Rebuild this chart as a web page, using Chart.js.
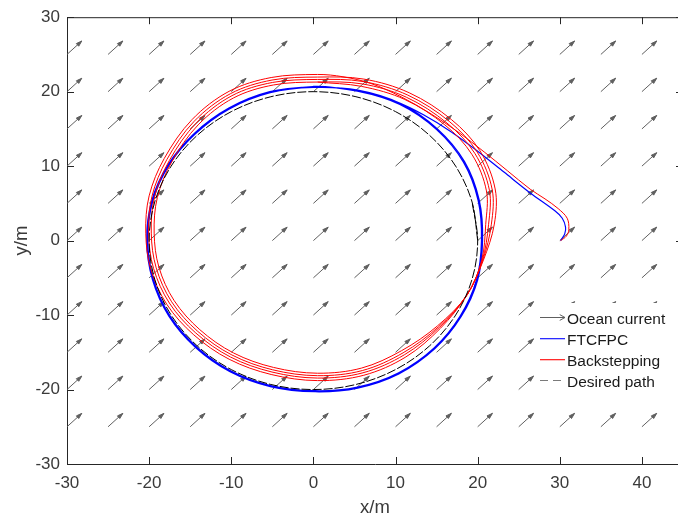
<!DOCTYPE html>
<html>
<head>
<meta charset="utf-8">
<script src="https://cdn.jsdelivr.net/npm/chart.js@4.4.0/dist/chart.umd.min.js"></script>
<style>
  html, body { margin: 0; padding: 0; background: #fff; overflow: hidden; }
  #wrap { width: 678px; height: 522px; overflow: hidden; }
  canvas { display: block; }
</style>
</head>
<body>
<div id="wrap"><canvas id="chart" width="700" height="522"></canvas></div>
<script>
const xTicks = [-30, -20, -10, 0, 10, 20, 30, 40];
const yTicks = [-30, -20, -10, 0, 10, 20, 30];

// ocean current field (quiver)
const currentX = [-30, -25, -20, -15, -10, -5, 0, 5, 10, 15, 20, 25, 30, 35, 40];
const currentY = [-25, -20, -15, -10, -5, 0, 5, 10, 15, 20, 25];
const currentU = 1.8;
const currentV = 1.8;

// desired path, r = 20
const desiredPath = [
  [20, 0], [19.32, 5.18], [17.32, 10], [14.14, 14.14], [10, 17.32], [5.18, 19.32],
  [0, 20], [-5.18, 19.32], [-10, 17.32], [-14.14, 14.14], [-17.32, 10], [-19.32, 5.18],
  [-20, 0], [-19.32, -5.18], [-17.32, -10], [-14.14, -14.14], [-10, -17.32], [-5.18, -19.32],
  [0, -20], [5.18, -19.32], [10, -17.32], [14.14, -14.14], [17.32, -10], [19.32, -5.18],
  [20, 0], [19.32, 5.18]
];

// FTCFPC
const ftcApproach = [
  [30.1, 0], [30.6, 0.9], [30.7, 1.8], [30.3, 3.0], [29.4, 4.0], [26.4, 6.4],
  [23.2, 9.2], [20.0, 12.0], [16.8, 14.6], [13.4, 16.9], [10.0, 18.7], [6.5, 19.9], [3.0, 20.5]
];
const ftcLap1 = [
  [0, 20.7], [-5.3, 20.0], [-10.3, 17.8], [-14.5, 14.4], [-17.7, 10.2], [-19.7, 5.3],
  [-20.3, 0], [-19.6, -5.25], [-17.6, -10.15], [-14.35, -14.35], [-10.15, -17.6], [-5.25, -19.6],
  [0.2, -20.3], [5.4, -19.8], [10.4, -17.9], [14.8, -14.5], [18.0, -10.2], [20.0, -5.3],
  [20.6, 0], [20.2, 5.4], [18.4, 10.6], [15.1, 15.0], [10.6, 18.4], [5.4, 20.2]
];
const ftcLap2 = [
  [0, 20.56], [-5.26, 19.86], [-10.23, 17.68], [-14.4, 14.3], [-17.58, 10.13], [-19.56, 5.26],
  [-20.16, 0], [-19.46, -5.21], [-17.48, -10.08], [-14.25, -14.25], [-10.08, -17.48], [-5.21, -19.46],
  [0.2, -20.16], [5.36, -19.66], [10.33, -17.77], [14.7, -14.4], [17.87, -10.13], [19.86, -5.26],
  [20.46, 0], [20.06, 5.36], [18.27, 10.52], [15.0, 14.9], [10.53, 18.27], [5.36, 20.06]
];
const ftcLap3 = [
  [0, 20.64], [-5.28, 19.94], [-10.27, 17.75], [-14.46, 14.36], [-17.65, 10.17], [-19.64, 5.28],
  [-20.24, 0], [-19.54, -5.23], [-17.55, -10.12], [-14.31, -14.31], [-10.12, -17.55], [-5.23, -19.54],
  [0.2, -20.24], [5.38, -19.74], [10.37, -17.85], [14.76, -14.46], [17.95, -10.17], [19.94, -5.28],
  [20.54, 0]
];

// Backstepping
const bsApproach = [
  [30.1, 0], [30.8, 0.6], [31.1, 1.5], [30.9, 3.0], [29.8, 4.3], [28.2, 5.6], [26.4, 6.9],
  [23.6, 9.4], [20.8, 11.9], [17.6, 14.6], [14.2, 17.1], [10.7, 19.3], [7.0, 21.1], [3.6, 22.0]
];
const bsLapA = [
  [0.5, 22.31], [-5.14, 21.9], [-10.26, 20.05], [-14.77, 16.26], [-18.16, 11.03], [-20.0, 6.01],
  [-20.41, 0.99], [-19.8, -3.83], [-17.85, -8.55], [-14.57, -12.65], [-10.26, -15.93], [-5.14, -17.98],
  [0.5, -18.8], [6.14, -18.08], [11.26, -15.62], [15.48, -11.76], [18.7, -7.3], [20.7, -2.62],
  [22.03, 2.22], [22.13, 6.93], [20.28, 12.06], [16.8, 16.26], [11.67, 19.85], [6.14, 21.69]
];
const bsLapB = [
  [0.5, 21.96], [-5.04, 21.56], [-10.08, 19.74], [-14.52, 16.02], [-17.85, 10.87], [-19.66, 5.94],
  [-20.06, 1.0], [-19.46, -3.74], [-17.54, -8.38], [-14.32, -12.41], [-10.08, -15.64], [-5.04, -17.65],
  [0.5, -18.46], [6.04, -17.75], [11.08, -15.33], [15.36, -11.64], [18.7, -7.3], [20.63, -2.6],
  [21.67, 2.21], [21.77, 6.84], [19.95, 11.88], [16.53, 16.02], [11.49, 19.54], [6.04, 21.36]
];
const bsLapC = [
  [0.5, 21.64], [-4.96, 21.24], [-9.92, 19.46], [-14.28, 15.78], [-17.55, 10.73], [-19.34, 5.86],
  [-19.74, 1.0], [-19.14, -3.66], [-17.26, -8.22], [-14.08, -12.19], [-9.92, -15.36], [-4.96, -17.35],
  [0.5, -18.14], [5.96, -17.45], [10.92, -15.07], [15.24, -11.56], [18.7, -7.3], [20.57, -2.6],
  [21.33, 2.19], [21.43, 6.76], [19.65, 11.72], [16.27, 15.78], [11.31, 19.26], [5.96, 21.04]
];
const bsLapD = [
  [0.5, 21.29], [-4.86, 20.9], [-9.74, 19.15], [-14.03, 15.54], [-17.25, 10.57], [-19.0, 5.79],
  [-19.39, 1.01], [-18.81, -3.57], [-16.95, -8.06], [-13.83, -11.96], [-9.74, -15.08], [-4.86, -17.03],
  [0.5, -17.81], [5.86, -17.12], [10.74, -14.78], [15.12, -11.44], [18.7, -7.3], [20.5, -2.58],
  [20.98, 2.18], [21.07, 6.67], [19.32, 11.54], [16.0, 15.54], [11.13, 18.95], [5.86, 20.71], [0.5, 21.29]
];

const legendItems = ["Ocean current", "FTCFPC", "Backstepping", "Desired path"];

const axisColor = "#262626";
const tickColor = "#3a3a3a";
const arrowColor = "#5f5f5f";
const fontFamily = "'Liberation Sans', Arial, sans-serif";

const toPoints = (arr) => arr.map(([x, y]) => ({ x, y }));

function drawArrowHead(ctx, x0, y0, x1, y1, len, spread, filled) {
  const ang = Math.atan2(y1 - y0, x1 - x0);
  ctx.beginPath();
  ctx.moveTo(x1 - len * Math.cos(ang - spread), y1 - len * Math.sin(ang - spread));
  ctx.lineTo(x1, y1);
  ctx.lineTo(x1 - len * Math.cos(ang + spread), y1 - len * Math.sin(ang + spread));
  if (filled) {
    ctx.closePath();
    ctx.fill();
  }
  ctx.stroke();
}

const overlay = {
  id: "overlay",
  beforeDatasetsDraw(chart) {
    const { ctx, scales: { x, y } } = chart;
    ctx.save();
    ctx.strokeStyle = arrowColor;
    ctx.fillStyle = arrowColor;
    ctx.lineWidth = 1;
    currentX.forEach((cx) => {
      currentY.forEach((cy) => {
        const x0 = x.getPixelForValue(cx);
        const y0 = y.getPixelForValue(cy);
        const x1 = x.getPixelForValue(cx + currentU);
        const y1 = y.getPixelForValue(cy + currentV);
        ctx.beginPath();
        ctx.moveTo(x0, y0);
        ctx.lineTo(x1, y1);
        ctx.stroke();
        drawArrowHead(ctx, x0, y0, x1, y1, 6, 0.3, true);
      });
    });
    ctx.restore();
  },
  afterDraw(chart) {
    const { ctx, chartArea: area, scales: { x, y } } = chart;
    ctx.save();
    ctx.strokeStyle = axisColor;
    ctx.lineWidth = 1;

    // top box line
    ctx.beginPath();
    ctx.moveTo(area.left, area.top + 0.5);
    ctx.lineTo(area.right, area.top + 0.5);
    ctx.stroke();

    // inward tick marks
    const tl = 7;
    ctx.beginPath();
    xTicks.forEach((v) => {
      const px = Math.round(x.getPixelForValue(v)) + 0.5;
      ctx.moveTo(px, area.bottom);
      ctx.lineTo(px, area.bottom - tl);
      ctx.moveTo(px, area.top);
      ctx.lineTo(px, area.top + tl);
    });
    yTicks.forEach((v) => {
      const py = Math.round(y.getPixelForValue(v)) + 0.5;
      ctx.moveTo(area.left, py);
      ctx.lineTo(area.left + tl, py);
      ctx.moveTo(area.right, py);
      ctx.lineTo(area.right - tl, py);
    });
    ctx.stroke();

    // legend
    const bx = 537, by = 303;
    ctx.fillStyle = "#ffffff";
    ctx.fillRect(bx, by, 170, 92);
    const rows = [317, 338, 359, 380];
    const x0 = 540, x1 = 565;

    ctx.strokeStyle = arrowColor;
    ctx.lineWidth = 1;
    ctx.beginPath();
    ctx.moveTo(x0, rows[0] + 0.5);
    ctx.lineTo(x1, rows[0] + 0.5);
    ctx.stroke();
    drawArrowHead(ctx, x0, rows[0] + 0.5, x1, rows[0] + 0.5, 6, 0.5, false);

    ctx.fillStyle = "#2b2bff";
    ctx.fillRect(x0, rows[1], x1 - x0, 1.3);
    ctx.fillStyle = "#ff2b2b";
    ctx.fillRect(x0, rows[2], x1 - x0, 1.3);
    ctx.fillStyle = "#7a7a7a";
    ctx.fillRect(x0, rows[3], 8, 1);
    ctx.fillRect(x0 + 13, rows[3], 8, 1);

    ctx.fillStyle = "#1a1a1a";
    ctx.font = "15.5px " + fontFamily;
    ctx.textAlign = "left";
    ctx.textBaseline = "alphabetic";
    legendItems.forEach((label, i) => {
      ctx.fillText(label, 567, rows[i] + 7);
    });
    ctx.restore();
  }
};

new Chart(document.getElementById("chart"), {
  type: "scatter",
  data: {
    datasets: [
      {
        label: "Desired path",
        data: toPoints(desiredPath),
        showLine: true,
        borderColor: "#000000",
        borderWidth: 1,
        borderDash: [9, 2],
        pointRadius: 0,
        tension: 0.34,
        order: 0
      },
      {
        label: "Backstepping",
        data: toPoints([...bsApproach, ...bsLapA, ...bsLapB, ...bsLapC, ...bsLapD]),
        showLine: true,
        borderColor: "#ff0000",
        borderWidth: 1,
        pointRadius: 0,
        tension: 0.34,
        order: 1
      },
      {
        label: "FTCFPC",
        data: toPoints([...ftcApproach, ...ftcLap1, ...ftcLap2, ...ftcLap3]),
        showLine: true,
        borderColor: "#0000ff",
        borderWidth: 1.2,
        pointRadius: 0,
        tension: 0.34,
        order: 2
      }
    ]
  },
  options: {
    responsive: false,
    animation: false,
    layout: { padding: { top: 14, right: 17, left: 0, bottom: 0 } },
    plugins: {
      legend: { display: false },
      tooltip: { enabled: false }
    },
    scales: {
      x: {
        type: "linear",
        min: -30,
        max: 45,
        afterBuildTicks: (s) => { s.ticks = xTicks.map((v) => ({ value: v })); },
        afterFit: (s) => { s.height = 58; },
        grid: { display: false, drawTicks: false },
        border: { display: true, color: axisColor, width: 1 },
        ticks: { color: tickColor, font: { family: fontFamily, size: 17 }, padding: 9, maxRotation: 0 },
        title: {
          display: true,
          text: "x/m",
          color: tickColor,
          font: { family: fontFamily, size: 18.5 },
          padding: { top: 0, bottom: 3 }
        }
      },
      y: {
        type: "linear",
        min: -30,
        max: 30,
        afterBuildTicks: (s) => { s.ticks = yTicks.map((v) => ({ value: v })); },
        afterFit: (s) => { s.width = 67; },
        grid: { display: false, drawTicks: false },
        border: { display: true, color: axisColor, width: 1 },
        ticks: { color: tickColor, font: { family: fontFamily, size: 17 }, padding: 7 },
        title: {
          display: true,
          text: "y/m",
          color: tickColor,
          font: { family: fontFamily, size: 18.5 },
          padding: { top: 11, bottom: 0 }
        }
      }
    }
  },
  plugins: [overlay]
});
</script>
</body>
</html>
